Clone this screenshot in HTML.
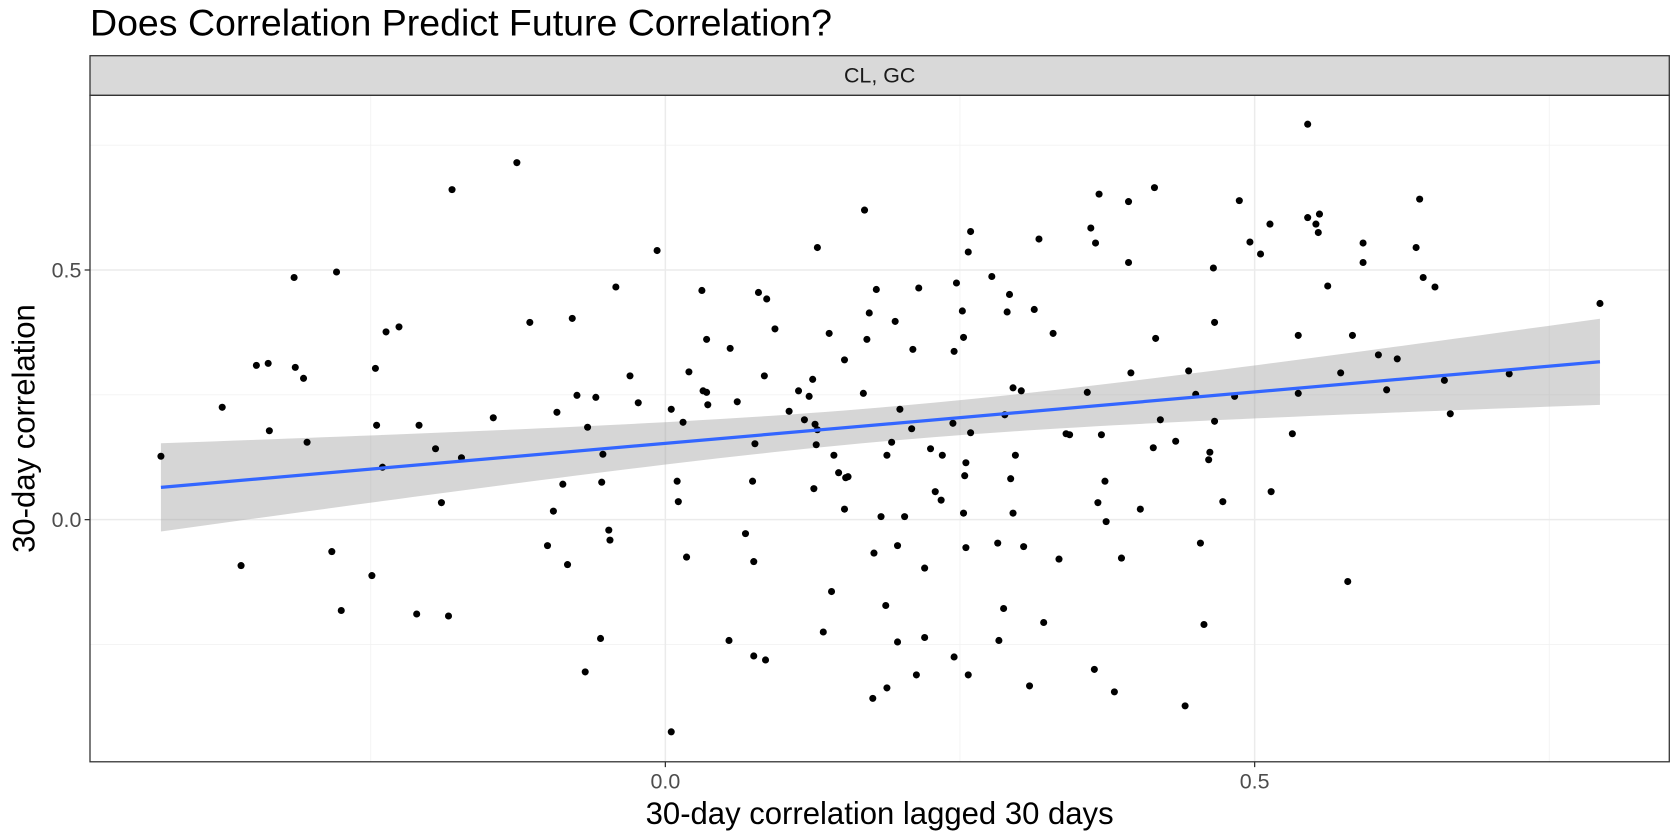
<!DOCTYPE html>
<html><head><meta charset="utf-8"><style>
html,body{margin:0;padding:0;background:#fff;}
svg{display:block;font-family:"Liberation Sans",sans-serif;}
</style></head><body>
<svg id="chart" width="1680" height="840" viewBox="0 0 1568 784" xmlns="http://www.w3.org/2000/svg">
<text x="84" y="33" font-size="35" fill="#000">Does Correlation Predict Future Correlation?</text>
<rect x="84" y="52" width="1474" height="37" fill="#d9d9d9" stroke="#333" stroke-width="1.2"/>
<text x="821" y="77" font-size="20" fill="#1a1a1a" text-anchor="middle">CL, GC</text>
<g id="grid"></g>
<g id="band"></g>
<g id="pts"></g>
<g id="fit"></g>
<rect x="84" y="89" width="1474" height="622" fill="none" stroke="#333" stroke-width="1.2"/>
<g id="axes"></g>
<text x="821" y="769" font-size="29" fill="#000" text-anchor="middle">30-day correlation lagged 30 days</text>
<text transform="translate(32,400) rotate(-90)" font-size="29" fill="#000" text-anchor="middle">30-day correlation</text>
</svg>
<script>
const xVals=[-0.428,-0.376,-0.360,-0.347,-0.337,-0.336,-0.315,-0.314,-0.307,-0.304,-0.283,-0.279,-0.275,-0.249,-0.246,-0.245,-0.240,-0.237,-0.226,-0.211,-0.209,-0.195,-0.190,-0.184,-0.181,-0.173,-0.146,-0.126,-0.115,-0.100,-0.095,-0.092,-0.087,-0.083,-0.079,-0.075,-0.068,-0.066,-0.059,-0.055,-0.054,-0.053,-0.048,-0.047,-0.042,-0.030,-0.023,-0.007,0.005,0.005,0.010,0.011,0.015,0.018,0.020,0.031,0.032,0.035,0.035,0.036,0.054,0.055,0.061,0.068,0.074,0.075,0.075,0.076,0.079,0.084,0.085,0.086,0.093,0.105,0.113,0.118,0.122,0.125,0.126,0.127,0.128,0.129,0.129,0.134,0.139,0.141,0.143,0.147,0.152,0.152,0.153,0.155,0.168,0.169,0.171,0.173,0.176,0.177,0.179,0.183,0.187,0.188,0.188,0.192,0.195,0.197,0.197,0.199,0.203,0.209,0.210,0.213,0.215,0.220,0.220,0.225,0.229,0.234,0.235,0.244,0.245,0.245,0.247,0.252,0.253,0.253,0.254,0.255,0.255,0.257,0.257,0.259,0.259,0.277,0.282,0.283,0.287,0.288,0.290,0.292,0.293,0.295,0.295,0.297,0.302,0.304,0.309,0.313,0.317,0.321,0.329,0.334,0.340,0.343,0.358,0.361,0.364,0.365,0.367,0.368,0.370,0.373,0.374,0.381,0.387,0.393,0.393,0.395,0.403,0.414,0.415,0.416,0.420,0.433,0.441,0.444,0.450,0.454,0.457,0.461,0.462,0.465,0.466,0.466,0.473,0.483,0.487,0.496,0.505,0.513,0.514,0.532,0.537,0.537,0.545,0.545,0.552,0.554,0.555,0.562,0.573,0.579,0.583,0.592,0.592,0.605,0.612,0.621,0.637,0.640,0.643,0.653,0.661,0.666,0.716,0.793];
const yVals=[0.127,0.225,-0.092,0.309,0.313,0.178,0.485,0.305,0.283,0.155,-0.064,0.496,-0.182,-0.112,0.303,0.189,0.105,0.376,0.386,-0.189,0.189,0.142,0.034,-0.193,0.661,0.124,0.204,0.715,0.395,-0.052,0.017,0.215,0.071,-0.090,0.403,0.249,-0.305,0.185,0.245,-0.238,0.075,0.131,-0.021,-0.041,0.466,0.288,0.234,0.539,-0.425,0.221,0.077,0.036,0.195,-0.075,0.296,0.459,0.258,0.255,0.361,0.230,-0.242,0.343,0.236,-0.028,0.077,-0.084,-0.273,0.152,0.455,0.288,-0.281,0.442,0.382,0.217,0.258,0.200,0.247,0.281,0.062,0.191,0.150,0.545,0.180,-0.225,0.373,-0.144,0.129,0.094,0.320,0.021,0.084,0.086,0.253,0.620,0.361,0.414,-0.358,-0.067,0.461,0.006,-0.172,0.129,-0.337,0.155,0.397,-0.052,-0.245,0.221,0.006,0.182,0.341,-0.311,0.464,-0.097,-0.236,0.142,0.056,0.039,0.129,0.193,-0.275,0.337,0.474,0.418,0.013,0.365,0.088,0.114,-0.056,0.536,-0.311,0.174,0.577,0.487,-0.047,-0.242,-0.178,0.210,0.416,0.451,0.082,0.264,0.013,0.129,0.258,-0.054,-0.333,0.421,0.562,-0.206,0.373,-0.079,0.172,0.170,0.255,0.584,-0.300,0.554,0.034,0.652,0.170,0.077,-0.004,-0.345,-0.077,0.637,0.515,0.294,0.021,0.144,0.665,0.363,0.200,0.157,-0.373,0.298,0.251,-0.047,-0.210,0.120,0.135,0.504,0.395,0.197,0.036,0.247,0.639,0.556,0.532,0.592,0.056,0.172,0.369,0.253,0.792,0.605,0.592,0.575,0.612,0.468,0.294,-0.124,0.369,0.554,0.515,0.330,0.260,0.322,0.545,0.642,0.485,0.466,0.279,0.212,0.292,0.433];
const xTicks=[0.0,0.5];
const xTickLabels=["0.0","0.5"];
const yTicks=[0.0,0.5];
const yTickLabels=["0.0","0.5"];
const xMinor=[-0.25,0.25,0.75];
const yMinor=[-0.25,0.25,0.75];

const NS="http://www.w3.org/2000/svg";
const L=84,R=1558,T=89,B=711;
const xs=v=>621+v*1100;
const ys=v=>485-v*466;
function mk(tag,attrs,parent){const e=document.createElementNS(NS,tag);for(const k in attrs)e.setAttribute(k,attrs[k]);parent.appendChild(e);return e;}
const grid=document.getElementById('grid');
xMinor.forEach(v=>{const l=mk('line',{x1:xs(v),x2:xs(v),y1:T,y2:B,stroke:'#f2f2f2','stroke-width':0.8},grid);

});
yMinor.forEach(v=>{const l=mk('line',{x1:L,x2:R,y1:ys(v),y2:ys(v),stroke:'#f2f2f2','stroke-width':0.8},grid);

});
xTicks.forEach(v=>{const l=mk('line',{x1:xs(v),x2:xs(v),y1:T,y2:B,stroke:'#ebebeb','stroke-width':1.4},grid);

});
yTicks.forEach(v=>{const l=mk('line',{x1:L,x2:R,y1:ys(v),y2:ys(v),stroke:'#ebebeb','stroke-width':1.4},grid);

});

// linear fit
const n=xVals.length;
const mx=xVals.reduce((a,b)=>a+b,0)/n, my=yVals.reduce((a,b)=>a+b,0)/n;
let sxx=0,sxy=0;for(let i=0;i<n;i++){sxx+=(xVals[i]-mx)**2;sxy+=(xVals[i]-mx)*(yVals[i]-my);}
const b1=sxy/sxx,b0=my-b1*mx;
let sse=0;for(let i=0;i<n;i++){sse+=(yVals[i]-b0-b1*xVals[i])**2;}
const s=Math.sqrt(sse/(n-2)),t=1.97;
const xmin=Math.min(...xVals),xmax=Math.max(...xVals);
const up=[],lo=[];
for(let k=0;k<=80;k++){const x=xmin+(xmax-xmin)*k/80;const f=b0+b1*x;const se=s*Math.sqrt(1/n+(x-mx)**2/sxx);
up.push(xs(x)+','+ys(f+t*se));lo.unshift(xs(x)+','+ys(f-t*se));}
const band=mk('polygon',{points:up.concat(lo).join(' '),fill:'#999','fill-opacity':0.4},document.getElementById('band'));



const pts=document.getElementById('pts');
for(let i=0;i<n;i++){const c=mk('circle',{cx:xs(xVals[i]),cy:ys(yVals[i]),r:3.3,fill:'#000'},pts);

}

const fl=mk('line',{x1:xs(xmin),y1:ys(b0+b1*xmin),x2:xs(xmax),y2:ys(b0+b1*xmax),stroke:'#3366ff','stroke-width':3},document.getElementById('fit'));



const axes=document.getElementById('axes');
xTicks.forEach((v,i)=>{const tk=mk('line',{x1:xs(v),x2:xs(v),y1:B,y2:B+5,stroke:'#333','stroke-width':1.2},axes);


const tx=mk('text',{x:xs(v),y:B+25,'font-size':20,fill:'#4d4d4d','text-anchor':'middle'},axes);tx.textContent=xTickLabels[i];

});
yTicks.forEach((v,i)=>{const tk=mk('line',{x1:L-5,x2:L,y1:ys(v),y2:ys(v),stroke:'#333','stroke-width':1.2},axes);


const tx=mk('text',{x:L-8,y:ys(v)+7,'font-size':20,fill:'#4d4d4d','text-anchor':'end'},axes);tx.textContent=yTickLabels[i];

});
</script>
</body></html>
